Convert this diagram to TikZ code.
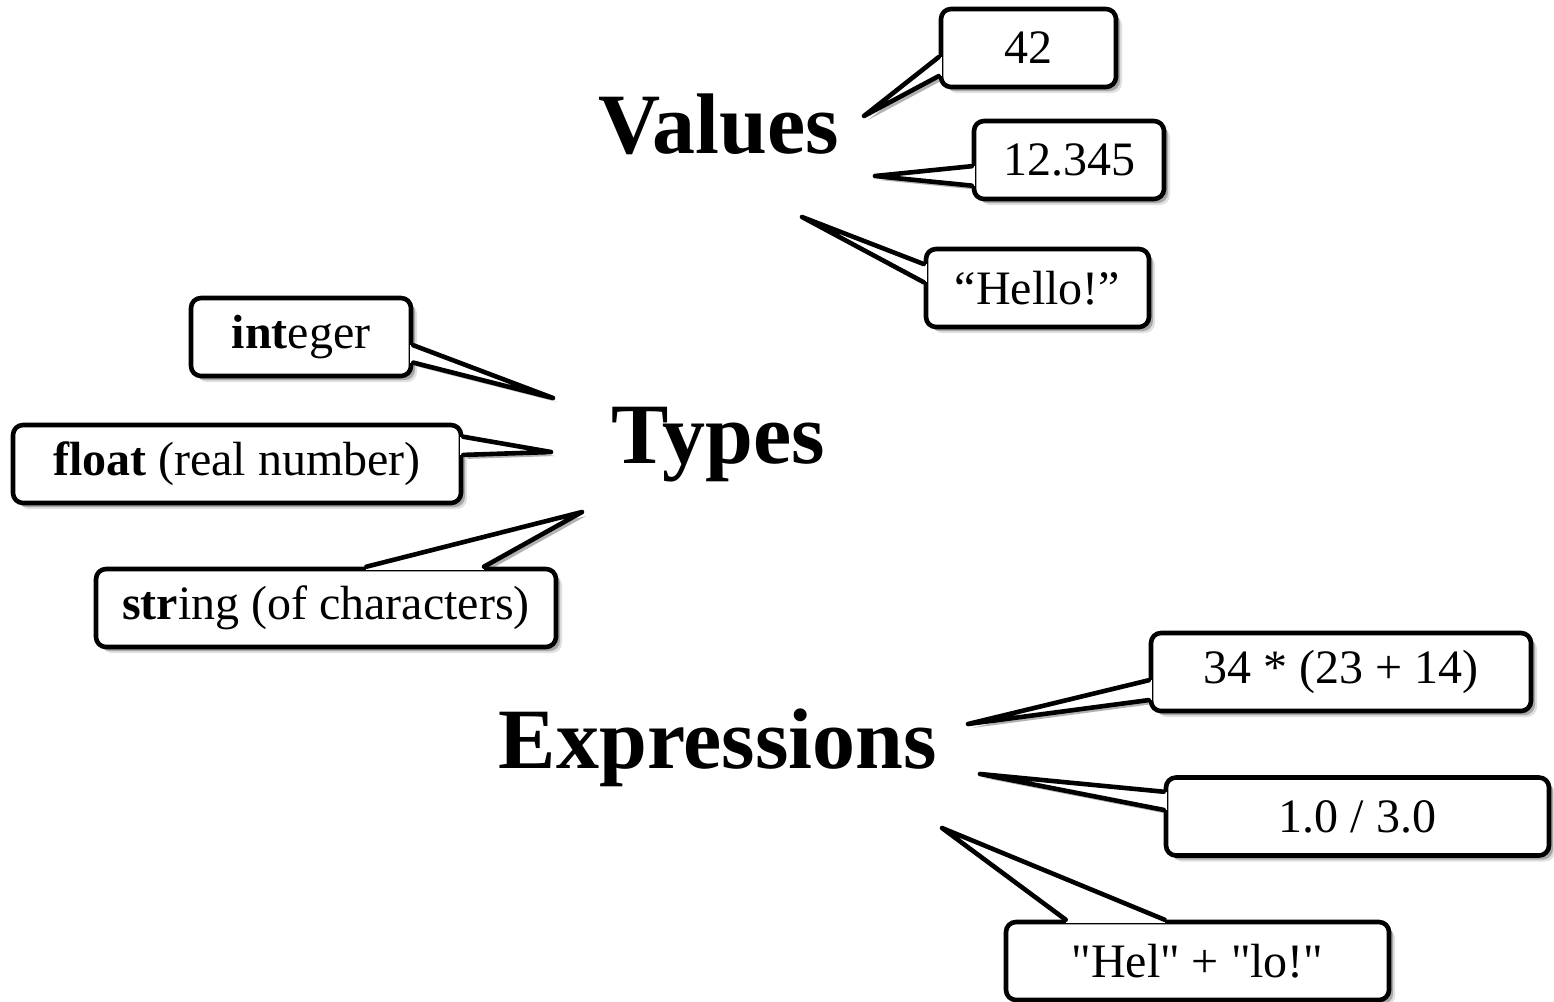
\documentclass[tikz,border=0pt]{standalone}
\usepackage{fontspec}
\setmainfont{Liberation Serif}
\newfontfamily\codefont{Liberation Serif}[Ligatures=TeXOff]
\usetikzlibrary{calc,shadows}

\pgfdeclarelayer{bg}
\pgfsetlayers{bg,main}

\tikzset{
  heading/.style={font=\fontsize{43}{47}\selectfont\bfseries, inner sep=0pt, anchor=base},
  bubble/.style={draw, fill=white, line width=2.3pt, rounded corners=5pt,
    minimum height=39pt, inner sep=2pt, font=\fontsize{24}{27}\selectfont,
    drop shadow={shadow xshift=3pt, shadow yshift=-3pt, fill=black, opacity=.12},
    drop shadow={shadow xshift=2pt, shadow yshift=-2pt, fill=black, opacity=.25}},
  pointerline/.style={line width=2.3pt, line join=round, line cap=round},
}

% pointer of a bubble: base point, tip, base point
\newcommand{\pointer}[3]{%
  \begin{pgfonlayer}{bg}
    \fill[black, opacity=.3] ([shift={(2pt,-2pt)}]#1) -- ([shift={(2pt,-2pt)}]#2) -- ([shift={(2pt,-2pt)}]#3) -- cycle;
  \end{pgfonlayer}
  \fill[white] (#1) -- (#2) -- (#3) -- cycle;
  \draw[white, line width=3pt] (#1) -- (#3);
  \draw[pointerline] (#1) -- (#2) -- (#3);
}

\begin{document}
\begin{tikzpicture}[x=0.5pt, y=-0.5pt]
  \useasboundingbox (0,0) rectangle (1554,1002);

  % Headings
  \node[heading] (values) at (719,153) {Values};
  \node[heading] (types) at (718,463) {Types};
  \node[heading] (exprs) at (718,768) {Expressions};

  % Values
  \node[bubble, minimum width=87.5pt] (v42) at (1028.5,48) {42};
  \node[bubble, minimum width=95pt] (v12) at (1069,160) {12.345};
  \node[bubble, minimum width=111.5pt] (vhello) at (1037.5,288) {“Hello!”};

  % Types
  \node[bubble, minimum width=110pt] (tint) at (301,337) {\textbf{int}eger};
  \node[bubble, minimum width=224pt] (tfloat) at (237,464) {\textbf{float} (real number)};
  \node[bubble, minimum width=230pt] (tstr) at (326,608) {\textbf{str}ing (of characters)};

  % Expressions
  \node[bubble, minimum width=190pt] (e34) at (1341,672) {\codefont 34 * (23 + 14)};
  \node[bubble, minimum width=191.5pt] (e10) at (1357.5,816.5) {\codefont 1.0 / 3.0};
  \node[bubble, minimum width=191.5pt] (ehel) at (1197.5,961) {\codefont "Hel" + "lo!"};

  % Pointer tips
  \coordinate (v42tip) at (864,116);
  \coordinate (v12tip) at (875,176);
  \coordinate (vhellotip) at (802,217);
  \coordinate (tinttip) at (553,398);
  \coordinate (tfloattip) at (551,452);
  \coordinate (tstrtip) at (582,512);
  \coordinate (e34tip) at (968,724);
  \coordinate (e10tip) at (980,774);
  \coordinate (eheltip) at (942,828);

  % Pointer bases
  \coordinate (v42a) at ($(v42.north west)!0.61!(v42.south west)$);
  \coordinate (v42b) at ($(v42.north west)!0.84!(v42.south west)$);
  \coordinate (v12a) at ($(v12.north west)!0.575!(v12.south west)$);
  \coordinate (v12b) at ($(v12.north west)!0.81!(v12.south west)$);
  \coordinate (vhelloa) at ($(vhello.north west)!0.21!(vhello.south west)$);
  \coordinate (vhellob) at ($(vhello.north west)!0.43!(vhello.south west)$);
  \coordinate (tinta) at ($(tint.north east)!0.6!(tint.south east)$);
  \coordinate (tintb) at ($(tint.north east)!0.81!(tint.south east)$);
  \coordinate (tfloata) at ($(tfloat.north east)!0.17!(tfloat.south east)$);
  \coordinate (tfloatb) at ($(tfloat.north east)!0.39!(tfloat.south east)$);
  \coordinate (tstra) at ($(tstr.north west)!0.587!(tstr.north east)$);
  \coordinate (tstrb) at ($(tstr.north west)!0.84!(tstr.north east)$);
  \coordinate (e34a) at ($(e34.north west)!0.6!(e34.south west)$);
  \coordinate (e34b) at ($(e34.north west)!0.84!(e34.south west)$);
  \coordinate (e10a) at ($(e10.north west)!0.2!(e10.south west)$);
  \coordinate (e10b) at ($(e10.north west)!0.42!(e10.south west)$);
  \coordinate (ehela) at ($(ehel.north west)!0.16!(ehel.north east)$);
  \coordinate (ehelb) at ($(ehel.north west)!0.415!(ehel.north east)$);

  % Draw the pointers
  \pointer{v42a}{v42tip}{v42b}
  \pointer{v12a}{v12tip}{v12b}
  \pointer{vhelloa}{vhellotip}{vhellob}
  \pointer{tinta}{tinttip}{tintb}
  \pointer{tfloata}{tfloattip}{tfloatb}
  \pointer{tstra}{tstrtip}{tstrb}
  \pointer{e34a}{e34tip}{e34b}
  \pointer{e10a}{e10tip}{e10b}
  \pointer{ehela}{eheltip}{ehelb}
\end{tikzpicture}
\end{document}
